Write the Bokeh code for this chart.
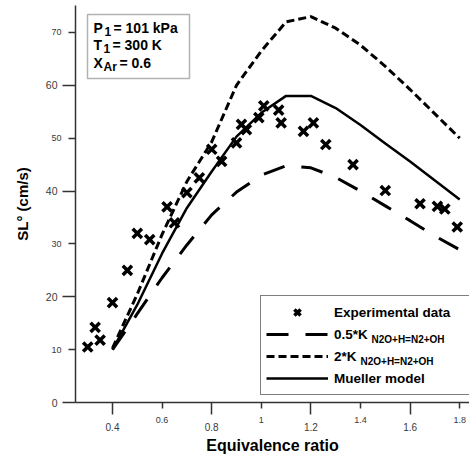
from bokeh.plotting import figure
from bokeh.models import FixedTicker, Label, BoxAnnotation, Legend, LegendItem, Range1d, LinearAxis
from bokeh.embed import file_html
from bokeh.resources import INLINE

# ---------------- data ----------------
exp_phi = [0.30, 0.33, 0.35, 0.40, 0.46, 0.50, 0.55, 0.62, 0.65, 0.70, 0.75, 0.80,
           0.84, 0.90, 0.92, 0.94, 0.99, 1.01, 1.07, 1.08, 1.17, 1.21, 1.26, 1.37,
           1.50, 1.64, 1.71, 1.74, 1.79]
exp_sl = [10.5, 14.2, 11.8, 18.9, 25.0, 32.0, 30.8, 37.0, 34.0, 39.7, 42.5, 47.9,
          45.6, 49.1, 52.6, 51.6, 53.9, 56.1, 55.3, 52.9, 51.3, 52.9, 48.8, 45.0,
          40.1, 37.6, 37.1, 36.6, 33.2]

model_phi = [0.4, 0.5, 0.6, 0.7, 0.8, 0.9, 1.0, 1.1, 1.2, 1.3, 1.4, 1.5, 1.6, 1.7, 1.8]
half_k = [10.0, 16.8, 23.6, 29.8, 35.5, 39.8, 43.0, 44.8, 44.4, 42.6, 40.0, 37.2, 34.4, 31.5, 28.9]
double_k = [10.3, 20.5, 31.8, 41.8, 49.3, 60.0, 66.5, 72.0, 73.0, 70.8, 67.6, 63.6, 59.2, 54.6, 50.0]
mueller = [10.0, 18.5, 28.2, 36.8, 43.7, 50.3, 54.8, 58.0, 58.0, 55.7, 52.5, 49.0, 45.6, 42.0, 38.4]

# long ticks with larger labels / short ticks with small labels
x_long_ticks = [0.4, 0.8, 1.2, 1.6]
x_short_ticks = [0.6, 1.0, 1.4, 1.8]
x_short_labels = ["0.6", "1", "1.4", "1.8"]
y_long_ticks = [0, 20, 40, 60]
y_short_ticks = [10, 30, 50, 70]
y_short_labels = ["10", "30", "50", "70"]

legend_labels = ["Experimental data", "0.5*K", "2*K", "Mueller model"]
k_subscript = "N2O+H=N2+OH"

x_title = "Equivalence ratio"
y_title = "SL° (cm/s)"

FONT = "Liberation Sans"
TICK_COLOR = "#3a3a3a"
AXIS_COLOR = "#333333"

p = figure(width=469, height=456, output_backend="svg", toolbar_location=None,
           x_range=Range1d(0.2508, 1.8395), y_range=Range1d(0, 75.1),
           min_border_left=75, min_border_right=0, min_border_top=5, min_border_bottom=54)
p.outline_line_color = None
p.xgrid.visible = False
p.ygrid.visible = False
p.background_fill_color = "white"
p.border_fill_color = "white"


def style_line_axis(ax, short_ticks, long_ticks, short_out, long_out, labels, standoff):
    ax.ticker = FixedTicker(ticks=short_ticks, minor_ticks=long_ticks)
    ax.major_tick_out = short_out
    ax.major_tick_in = 0
    ax.minor_tick_out = long_out
    ax.minor_tick_in = 0
    ax.major_label_overrides = {float(v): t for v, t in zip(short_ticks, labels)}
    ax.major_label_standoff = standoff
    ax.major_label_text_font = FONT
    ax.major_label_text_font_size = "9px"
    ax.major_label_text_color = TICK_COLOR
    ax.axis_line_color = AXIS_COLOR
    ax.axis_line_width = 1.5
    ax.major_tick_line_color = AXIS_COLOR
    ax.major_tick_line_width = 1.5
    ax.minor_tick_line_color = AXIS_COLOR
    ax.minor_tick_line_width = 1.5


def style_label_axis(ax, ticks, standoff, size, title, title_size, title_standoff):
    ax.ticker = FixedTicker(ticks=ticks, minor_ticks=[])
    ax.axis_line_color = None
    ax.major_tick_line_color = None
    ax.minor_tick_line_color = None
    ax.major_tick_out = 0
    ax.major_tick_in = 0
    ax.minor_tick_out = 0
    ax.minor_tick_in = 0
    ax.major_label_standoff = standoff
    ax.major_label_text_font = FONT
    ax.major_label_text_font_size = size
    ax.major_label_text_color = TICK_COLOR
    ax.axis_label = title
    ax.axis_label_text_font = FONT
    ax.axis_label_text_font_style = "bold"
    ax.axis_label_text_font_size = title_size
    ax.axis_label_text_color = "black"
    ax.axis_label_standoff = title_standoff


# x: inner axis (line, all ticks, small labels), outer axis (large labels + title)
style_line_axis(p.xaxis[0], x_short_ticks, x_long_ticks, 6, 12, x_short_labels, 2)
x_outer = LinearAxis()
style_label_axis(x_outer, x_long_ticks, -3, "10px", x_title, "16px", 3)
p.add_layout(x_outer, "below")

# y: inner axis and outer axis
style_line_axis(p.yaxis[0], y_short_ticks, y_long_ticks, 7, 13, y_short_labels, 1)
y_outer = LinearAxis()
style_label_axis(y_outer, y_long_ticks, -9, "10.5px", y_title, "15px", 12)
p.add_layout(y_outer, "left")

# series
r_half = p.line(model_phi, half_k, line_color="black", line_width=3, line_dash="22 17")
r_double = p.line(model_phi, double_k, line_color="black", line_width=3, line_dash="8 4")
r_mueller = p.line(model_phi, mueller, line_color="black", line_width=2.5)
r_exp = p.scatter(exp_phi, exp_sl, marker="x", size=13, line_color="black", line_width=3.5)

legend = Legend(items=[LegendItem(label=legend_labels[0], renderers=[r_exp]),
                       LegendItem(label=legend_labels[1], renderers=[r_half]),
                       LegendItem(label=legend_labels[2], renderers=[r_double]),
                       LegendItem(label=legend_labels[3], renderers=[r_mueller])],
                location=(185, 7), glyph_width=62, glyph_height=22, spacing=0,
                label_height=20, label_width=170,
                padding=5, label_standoff=6, margin=0,
                label_text_font=FONT, label_text_font_style="bold",
                label_text_font_size="13.5px", label_text_color="black",
                border_line_color="black", border_line_width=1.5,
                background_fill_color="white", background_fill_alpha=0)
p.add_layout(legend)

# subscripts in legend
sub_x = [296, 285]
sub_y = [63, 41]
for sx, sy in zip(sub_x, sub_y):
    p.add_layout(Label(x=sx, y=sy, x_units="screen", y_units="screen", text=k_subscript,
                       text_align="left", text_baseline="middle", level="overlay",
                       text_font=FONT, text_font_style="bold", text_font_size="10px",
                       text_color="black"))

# condition box
p.add_layout(BoxAnnotation(left=12, right=114, bottom=324, top=388,
                           left_units="screen", right_units="screen",
                           bottom_units="screen", top_units="screen",
                           fill_color="white", fill_alpha=1,
                           line_color="black", line_width=1.5))
box_parts = [
    ("P", 18, 375, "14px"), ("1", 29, 371, "12px"), ("= 101 kPa", 38, 375, "14px"),
    ("T", 18, 358, "14px"), ("1", 28, 354, "12px"), ("= 300 K", 37, 358, "14px"),
    ("X", 18, 340, "14px"), ("Ar", 28, 336, "12px"), ("= 0.6", 44, 340, "14px"),
]
for t, bx, by, fs in box_parts:
    p.add_layout(Label(x=bx, y=by, x_units="screen", y_units="screen", text=t,
                       text_align="left", text_baseline="middle", level="overlay",
                       text_font=FONT, text_font_style="bold", text_font_size=fs,
                       text_color="black"))

open("out.html", "w").write(file_html(p, INLINE))
